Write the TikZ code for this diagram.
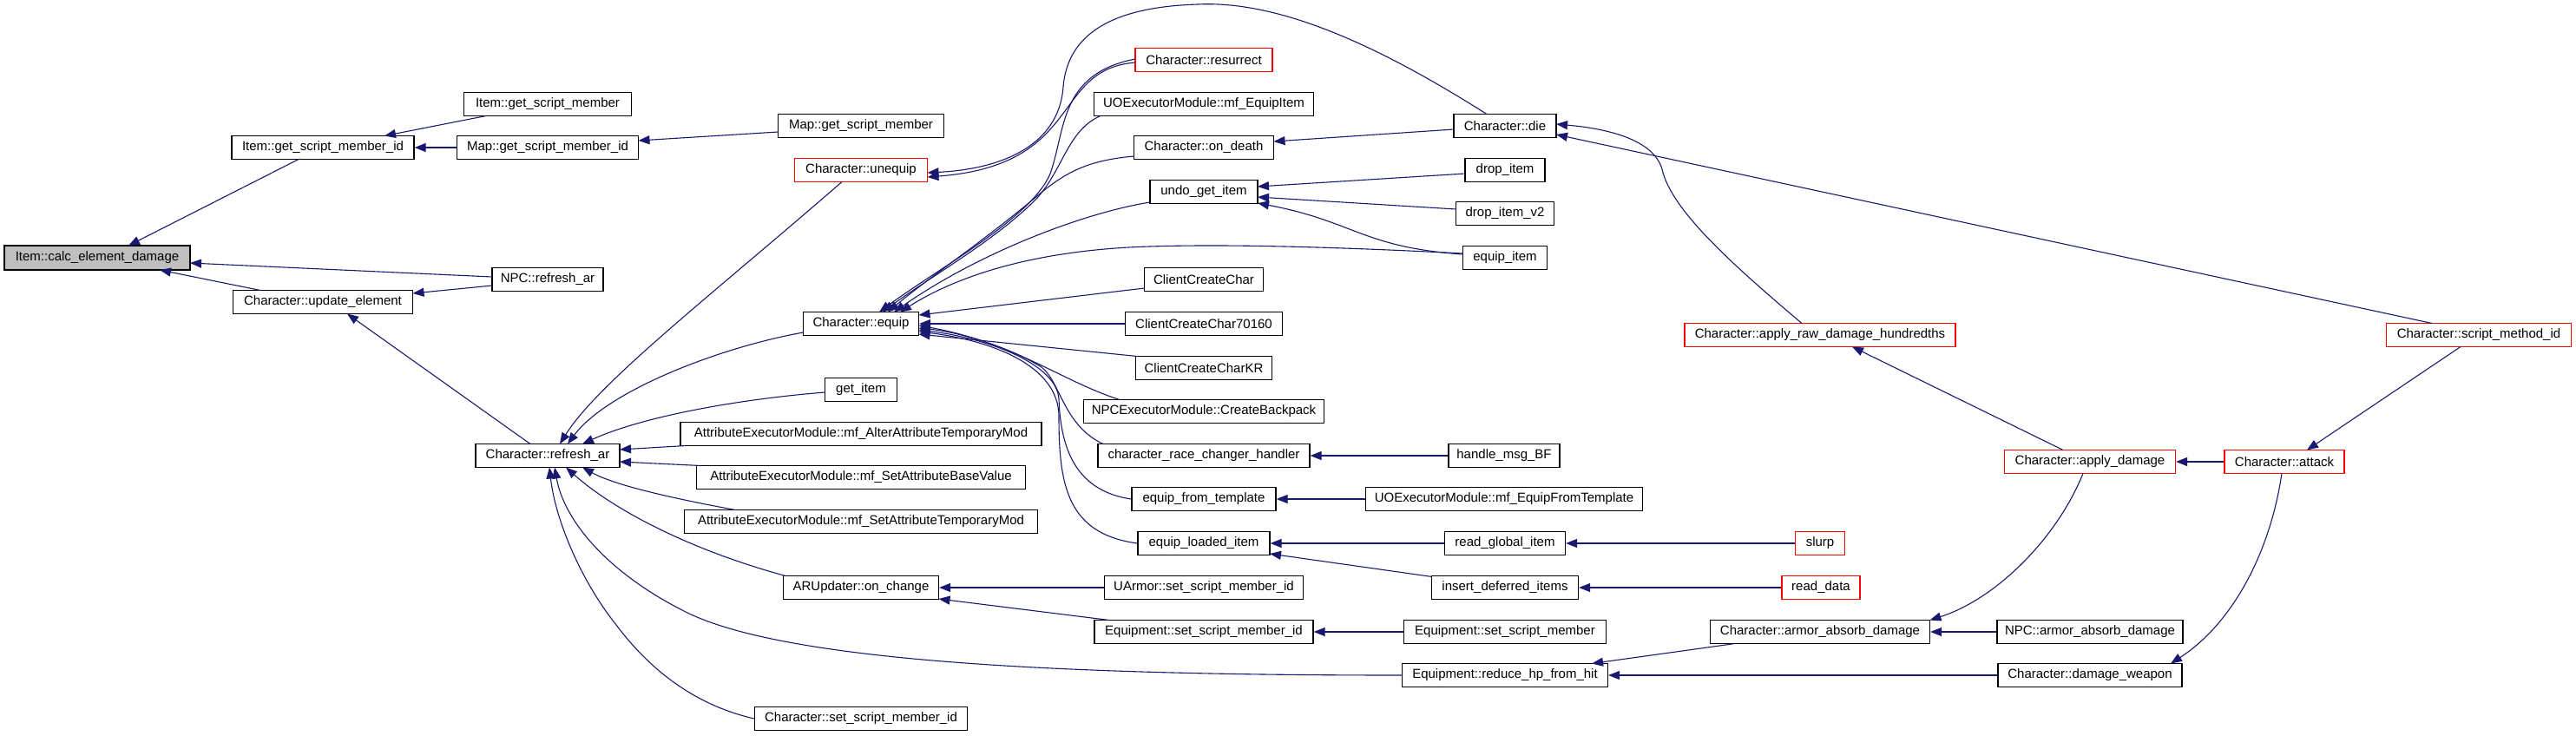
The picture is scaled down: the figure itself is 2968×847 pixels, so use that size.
\documentclass[tikz,border=0pt]{standalone}
\usepackage{fontspec}
\setmainfont{Liberation Sans}
\usetikzlibrary{arrows.meta}
\definecolor{edgeblue}{HTML}{191970}
\definecolor{nodegray}{HTML}{BFBFBF}
\newcommand\nfont{\fontsize{15pt}{18pt}\selectfont}
\begin{document}
\begin{tikzpicture}[x=1pt,y=-1pt,
  box/.style={draw=black, line width=1.2pt, fill=white, minimum height=27pt, inner sep=0pt, font=\nfont, anchor=center},
  rbox/.style={box, draw=red},
  gbox/.style={box, fill=nodegray, minimum height=28pt},
  call/.style={draw=edgeblue, line width=1.1pt, -{Triangle[length=13pt,width=10pt]}}]
\fill[white] (0,0) rectangle (2968,847);
\useasboundingbox (0,0) rectangle (2968,847);
% nodes
\node[gbox,minimum width=214pt] (calc) at (112,297) {Item::calc\_element\_damage};
\node[box,minimum width=210pt] (igsmi) at (372,170) {Item::get\_script\_member\_id};
\node[box,minimum width=193pt] (igsm) at (631,120) {Item::get\_script\_member};
\node[box,minimum width=209pt] (mgsmi) at (631,170) {Map::get\_script\_member\_id};
\node[box,minimum width=191pt] (mgsm) at (992,145) {Map::get\_script\_member};
\node[box,minimum width=128pt] (npcra) at (631,322) {NPC::refresh\_ar};
\node[box,minimum width=207pt] (cue) at (372,348) {Character::update\_element};
\node[box,minimum width=166pt] (cra) at (631,525) {Character::refresh\_ar};
\node[rbox,minimum width=153pt] (unequip) at (992,196) {Character::unequip};
\node[box,minimum width=133pt] (equip) at (992,373) {Character::equip};
\node[box,minimum width=83pt] (getitem) at (992,449) {get\_item};
\node[box,minimum width=416pt] (aalter) at (992,500) {AttributeExecutorModule::mf\_AlterAttributeTemporaryMod};
\node[box,minimum width=379pt] (asetbase) at (992,550) {AttributeExecutorModule::mf\_SetAttributeBaseValue};
\node[box,minimum width=407pt] (asettemp) at (992,601) {AttributeExecutorModule::mf\_SetAttributeTemporaryMod};
\node[box,minimum width=179pt] (aru) at (992,677) {ARUpdater::on\_change};
\node[box,minimum width=245pt] (cssmi) at (992,828) {Character::set\_script\_member\_id};
\node[rbox,minimum width=158pt] (resurrect) at (1387,69) {Character::resurrect};
\node[box,minimum width=253pt] (mfequip) at (1387,120) {UOExecutorModule::mf\_EquipItem};
\node[box,minimum width=161pt] (ondeath) at (1387,170) {Character::on\_death};
\node[box,minimum width=124pt] (undo) at (1387,221) {undo\_get\_item};
\node[box,minimum width=137pt] (ccc) at (1387,322) {ClientCreateChar};
\node[box,minimum width=181pt] (ccc7) at (1387,373) {ClientCreateChar70160};
\node[box,minimum width=157pt] (ccckr) at (1387,424) {ClientCreateCharKR};
\node[box,minimum width=277pt] (backpack) at (1387,474) {NPCExecutorModule::CreateBackpack};
\node[box,minimum width=244pt] (racech) at (1387,525) {character\_race\_changer\_handler};
\node[box,minimum width=166pt] (eft) at (1387,575) {equip\_from\_template};
\node[box,minimum width=152pt] (eli) at (1387,626) {equip\_loaded\_item};
\node[box,minimum width=229pt] (uarmor) at (1387,677) {UArmor::set\_script\_member\_id};
\node[box,minimum width=252pt] (essmi) at (1387,728) {Equipment::set\_script\_member\_id};
\node[box,minimum width=118pt] (die) at (1734,145) {Character::die};
\node[box,minimum width=92pt] (drop) at (1734,196) {drop\_item};
\node[box,minimum width=113pt] (dropv2) at (1734,246) {drop\_item\_v2};
\node[box,minimum width=97pt] (equipitem) at (1734,297) {equip\_item};
\node[box,minimum width=128pt] (hmsg) at (1733,525) {handle\_msg\_BF};
\node[box,minimum width=319pt] (mfeft) at (1733,575) {UOExecutorModule::mf\_EquipFromTemplate};
\node[box,minimum width=139pt] (rgi) at (1734,626) {read\_global\_item};
\node[box,minimum width=169pt] (idi) at (1734,677) {insert\_deferred\_items};
\node[box,minimum width=233pt] (essm) at (1734,728) {Equipment::set\_script\_member};
\node[box,minimum width=237pt] (rhfh) at (1734,778) {Equipment::reduce\_hp\_from\_hit};
\node[rbox,minimum width=312pt] (ard) at (2097,386) {Character::apply\_raw\_damage\_hundredths};
\node[rbox,minimum width=57pt] (slurp) at (2097,626) {slurp};
\node[rbox,minimum width=90pt] (readdata) at (2098,677) {read\_data};
\node[box,minimum width=253pt] (caad) at (2097,728) {Character::armor\_absorb\_damage};
\node[rbox,minimum width=197pt] (capd) at (2408,532) {Character::apply\_damage};
\node[box,minimum width=214pt] (npcaad) at (2408,728) {NPC::armor\_absorb\_damage};
\node[box,minimum width=212pt] (cdw) at (2408,778) {Character::damage\_weapon};
\node[rbox,minimum width=138pt] (attack) at (2632,532) {Character::attack};
\node[rbox,minimum width=213pt] (smi) at (2856,386) {Character::script\_method\_id};
% edges
\draw[call] ([shift={(-27,13)}]igsmi.center) -- ([shift={(36,-14)}]calc.center);
\draw[call] ([shift={(-64,-3)}]npcra.center) -- ([shift={(107,6)}]calc.center);
\draw[call] ([shift={(-72,-13.5)}]cue.center) -- ([shift={(72,14)}]calc.center);
\draw[call] ([shift={(-71,13.5)}]igsm.center) -- ([shift={(71,-13.5)}]igsmi.center);
\draw[call] (mgsmi.west) -- (igsmi.east);
\draw[call] ([shift={(-95.5,7)}]mgsm.center) -- ([shift={(104.5,-8)}]mgsmi.center);
\draw[call] ([shift={(-64,7)}]npcra.center) -- ([shift={(103.5,-10)}]cue.center);
\draw[call] ([shift={(-20,-13.5)}]cra.center) -- ([shift={(28,13.5)}]cue.center);
\draw[call] ([shift={(-22,13.5)}]unequip.center) .. controls (820,340) and (690,440) .. ([shift={(14,-13.5)}]cra.center);
\draw[call] ([shift={(-66.5,10)}]equip.center) .. controls (830,400) and (700,450) .. ([shift={(23,-13.5)}]cra.center);
\draw[call] ([shift={(-41.5,3)}]getitem.center) .. controls (850,460) and (740,480) .. ([shift={(40,-13.5)}]cra.center);
\draw[call] ([shift={(-202,13.5)}]aalter.center) -- ([shift={(83,-7)}]cra.center);
\draw[call] ([shift={(-185,-13.5)}]asetbase.center) -- ([shift={(83,7)}]cra.center);
\draw[call] ([shift={(-145,-13.5)}]asettemp.center) .. controls (780,575) and (710,560) .. ([shift={(40,13.5)}]cra.center);
\draw[call] ([shift={(-87,-13.5)}]aru.center) .. controls (800,635) and (710,590) .. ([shift={(21,13.5)}]cra.center);
\draw[call] (rhfh.west) .. controls (1200,778) and (900,760) .. (790,705) .. controls (700,660) and (650,600) .. ([shift={(8,13.5)}]cra.center);
\draw[call] (cssmi.west) .. controls (790,810) and (740,760) .. (710,720) .. controls (670,670) and (640,600) .. ([shift={(2,13.5)}]cra.center);
\draw[call] ([shift={(-79,3)}]resurrect.center) .. controls (1210,80) and (1250,190) .. ([shift={(76.5,8)}]unequip.center);
\draw[call] ([shift={(-21,-13.5)}]die.center) .. controls (1600,60) and (1480,0) .. (1380,5) .. controls (1280,8) and (1230,40) .. (1225,100) .. controls (1220,170) and (1150,195) .. ([shift={(76.5,3)}]unequip.center);
\draw[call] ([shift={(-79,-1)}]resurrect.center) .. controls (1220,85) and (1228,150) .. (1210,200) .. controls (1190,250) and (1080,310) .. ([shift={(21,-13.5)}]equip.center);
\draw[call] ([shift={(-119,13.5)}]mfequip.center) .. controls (1230,150) and (1225,195) .. (1195,228) .. controls (1150,275) and (1070,320) .. ([shift={(25,-13.5)}]equip.center);
\draw[call] ([shift={(-80.5,10)}]ondeath.center) .. controls (1250,185) and (1225,200) .. (1190,230) .. controls (1130,280) and (1070,320) .. ([shift={(31,-13.5)}]equip.center);
\draw[call] ([shift={(-62,12)}]undo.center) .. controls (1250,245) and (1130,290) .. ([shift={(38,-13.5)}]equip.center);
\draw[call] ([shift={(-48.5,-5)}]equipitem.center) .. controls (1550,285) and (1400,280) .. (1300,285) .. controls (1180,292) and (1100,320) .. ([shift={(45,-13.5)}]equip.center);
\draw[call] ([shift={(-68.5,10)}]ccc.center) -- ([shift={(66.5,-10)}]equip.center);
\draw[call] (ccc7.west) -- (equip.east);
\draw[call] ([shift={(-77,-13.5)}]ccckr.center) -- ([shift={(66.5,12)}]equip.center);
\draw[call] ([shift={(-97,-13.5)}]backpack.center) .. controls (1225,440) and (1170,395) .. ([shift={(66.5,2)}]equip.center);
\draw[call] ([shift={(-116,-13.5)}]racech.center) .. controls (1225,490) and (1222,440) .. (1200,423) .. controls (1160,398) and (1100,382) .. ([shift={(66.5,5)}]equip.center);
\draw[call] (eft.west) .. controls (1235,565) and (1222,510) .. (1220,460) .. controls (1218,420) and (1140,390) .. ([shift={(66.5,7)}]equip.center);
\draw[call] (eli.west) .. controls (1230,615) and (1220,560) .. (1220,480) .. controls (1220,420) and (1140,392) .. ([shift={(66.5,9)}]equip.center);
\draw[call] ([shift={(-59,4)}]die.center) -- ([shift={(80.5,-7)}]ondeath.center);
\draw[call] ([shift={(-46,4)}]drop.center) -- ([shift={(62,-6)}]undo.center);
\draw[call] ([shift={(-56.5,-5)}]dropv2.center) -- ([shift={(62,6)}]undo.center);
\draw[call] ([shift={(-48.5,-4)}]equipitem.center) .. controls (1570,285) and (1560,255) .. ([shift={(62,13)}]undo.center);
\draw[call] ([shift={(-21,-13.5)}]ard.center) .. controls (1990,300) and (1925,240) .. (1915,195) .. controls (1905,160) and (1850,148) .. ([shift={(59,-2)}]die.center);
\draw[call] ([shift={(-54,-13.5)}]smi.center) -- ([shift={(59,10)}]die.center);
\draw[call] ([shift={(-31,-13.5)}]capd.center) -- ([shift={(37,13.5)}]ard.center);
\draw[call] (attack.west) -- (capd.east);
\draw[call] ([shift={(-21,13.5)}]smi.center) -- ([shift={(26,-13.5)}]attack.center);
\draw[call] ([shift={(-3,13.5)}]attack.center) .. controls (2615,640) and (2570,720) .. ([shift={(93,-13.5)}]cdw.center);
\draw[call] ([shift={(-8,13.5)}]capd.center) .. controls (2370,620) and (2300,690) .. ([shift={(126.5,-13.5)}]caad.center);
\draw[call] (npcaad.west) -- (caad.east);
\draw[call] ([shift={(-98,13.5)}]caad.center) -- ([shift={(100,-13.5)}]rhfh.center);
\draw[call] (cdw.west) -- (rhfh.east);
\draw[call] (hmsg.west) -- (racech.east);
\draw[call] (mfeft.west) -- (eft.east);
\draw[call] (rgi.west) -- (eli.east);
\draw[call] ([shift={(-84,-12.5)}]idi.center) -- ([shift={(76,12)}]eli.center);
\draw[call] (slurp.west) -- (rgi.east);
\draw[call] (readdata.west) -- (idi.east);
\draw[call] (uarmor.west) -- (aru.east);
\draw[call] ([shift={(-109,-13.5)}]essmi.center) -- ([shift={(89.5,13)}]aru.center);
\draw[call] (essm.west) -- (essmi.east);
\end{tikzpicture}
\end{document}
